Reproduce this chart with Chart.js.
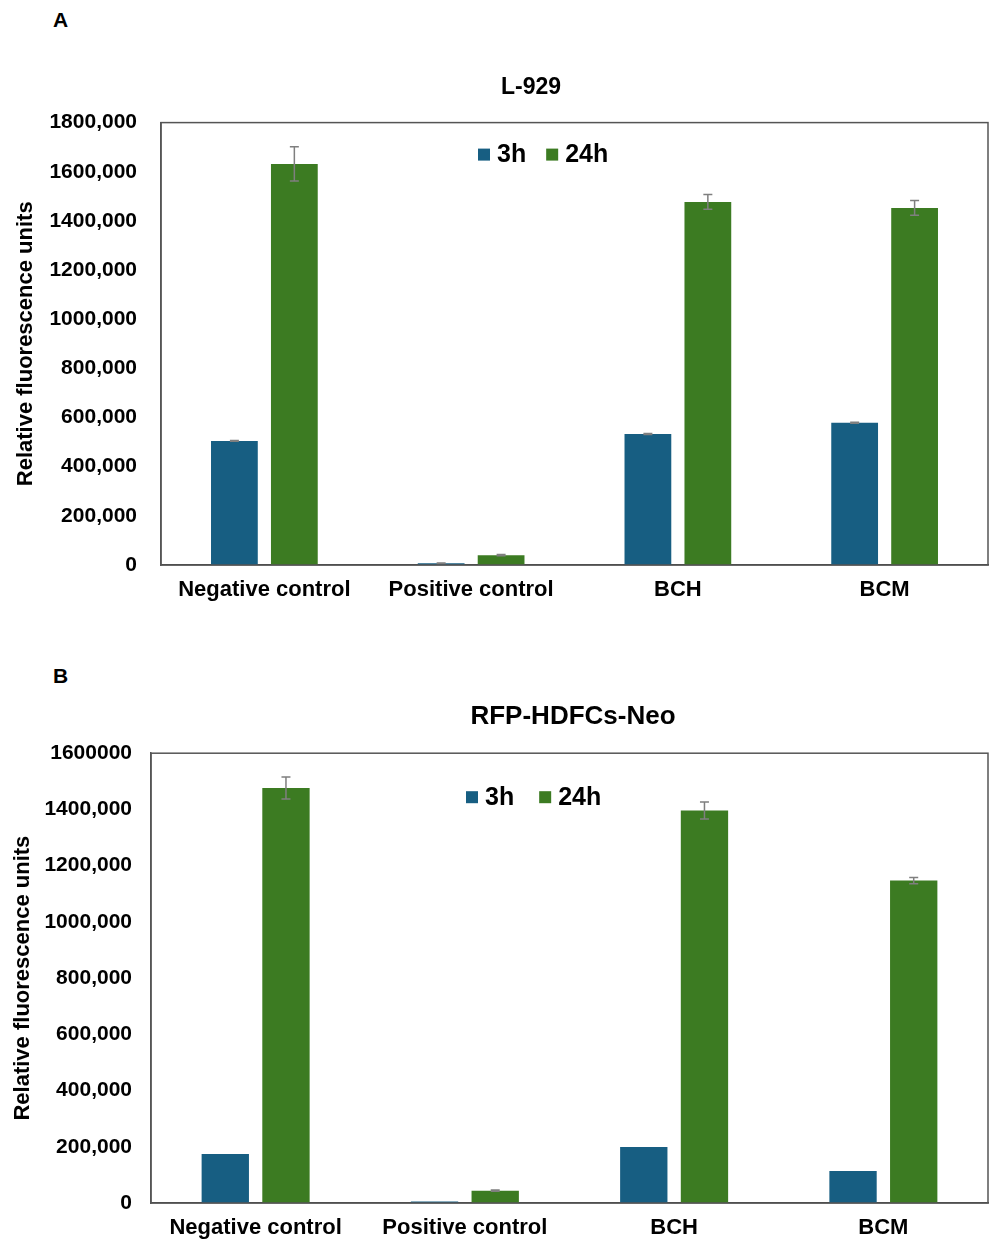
<!DOCTYPE html>
<html>
<head>
<meta charset="utf-8">
<script src="https://cdn.jsdelivr.net/npm/chart.js@4.4.1/dist/chart.umd.min.js"></script>
<style>
  body { margin: 0; background: #fff; width: 989px; height: 1240px; position: relative; overflow: hidden;
         font-family: "Liberation Sans", Arial, sans-serif; }
  .panel { position: absolute; left: 53px; font-weight: bold; font-size: 21px; color: #000; }
  canvas { position: absolute; left: 0; }
</style>
</head>
<body>
<div class="panel" style="top:8px">A</div>
<canvas id="chartA" width="989" height="625" style="top:0"></canvas>
<div class="panel" style="top:664px">B</div>
<canvas id="chartB" width="989" height="600" style="top:640px"></canvas>

<script>
// datos
const categories = ['Negative control', 'Positive control', 'BCH', 'BCM'];
const seriesNames = ['3h', '24h'];
const seriesColors = ['#175e82', '#3c7b22'];

// A - L-929
const l929_3h = [505000, 7000, 533000, 579000];
const l929_24h = [1632000, 40000, 1477000, 1453000];
const l929_3hErr = [2000, 1500, 2500, 2000];
const l929_24hErr = [70000, 2500, 30000, 30000];
const l929Ticks = ['0', '200,000', '400,000', '600,000', '800,000', '1000,000', '1200,000', '1400,000', '1600,000', '1800,000'];

// B - RFP-HDFCs-Neo
const rfp_3h = [174000, 5000, 199000, 114000];
const rfp_24h = [1476000, 44000, 1396000, 1147000];
const rfp_3hErr = [0, 0, 0, 0];
const rfp_24hErr = [39000, 2000, 30000, 11000];
const rfpTicks = ['0', '200,000', '400,000', '600,000', '800,000', '1000,000', '1200,000', '1400,000', '1600000'];

Chart.defaults.font.family = '"Liberation Sans", Arial, sans-serif';

// barras de error (simetricas)
const errorBars = {
  id: 'errorBars',
  afterDatasetsDraw(chart) {
    const ctx = chart.ctx;
    const y = chart.scales.y;
    ctx.save();
    ctx.strokeStyle = '#7f7f7f';
    ctx.lineWidth = 1.5;
    chart.data.datasets.forEach((ds, i) => {
      chart.getDatasetMeta(i).data.forEach((bar, j) => {
        const e = ds.errors[j];
        if (!e) return;
        const top = y.getPixelForValue(ds.data[j] + e);
        const bot = y.getPixelForValue(Math.max(ds.data[j] - e, 0));
        ctx.beginPath();
        ctx.moveTo(bar.x, top); ctx.lineTo(bar.x, bot);
        ctx.moveTo(bar.x - 4.5, top); ctx.lineTo(bar.x + 4.5, top);
        ctx.moveTo(bar.x - 4.5, bot); ctx.lineTo(bar.x + 4.5, bot);
        ctx.stroke();
      });
    });
    ctx.restore();
  }
};

// marco alrededor del area del grafico
const frame = {
  id: 'frame',
  afterDatasetsDraw(chart) {
    const {left, top, right, bottom} = chart.chartArea;
    const ctx = chart.ctx;
    ctx.save();
    ctx.strokeStyle = '#555';
    ctx.lineWidth = 1.5;
    ctx.strokeRect(left, top, right - left, bottom - top);
    ctx.restore();
  }
};

// leyenda en una fila dentro del area (la de Chart.js en chartArea sale en columna)
const rowLegend = {
  id: 'rowLegend',
  afterDraw(chart, args, opts) {
    const ctx = chart.ctx;
    const area = chart.chartArea;
    let x = area.left + opts.x;
    const y = area.top + opts.y;
    ctx.save();
    ctx.font = 'bold 25px "Liberation Sans", Arial, sans-serif';
    ctx.textBaseline = 'middle';
    chart.data.datasets.forEach(ds => {
      ctx.fillStyle = ds.backgroundColor;
      ctx.fillRect(x, y - 6, 12, 12);
      x += 12 + 7;
      ctx.fillStyle = '#000';
      ctx.fillText(ds.label, x, y + 1);
      x += ctx.measureText(ds.label).width + opts.gap;
    });
    ctx.restore();
  }
};

// mover el titulo a donde esta en la figura
const shiftTitle = {
  id: 'shiftTitle',
  afterLayout(chart, args, opts) {
    const t = chart.titleBlock;
    if (t) { t.left += opts.dx; t.right += opts.dx; }
  }
};

function makeChart(id, title, d3, d24, e3, e24, yMax, tickLabels, cfg) {
  const ctx = document.getElementById(id).getContext('2d');
  return new Chart(ctx, {
    type: 'bar',
    data: {
      labels: categories,
      datasets: [
        { label: seriesNames[0], data: d3, errors: e3, backgroundColor: seriesColors[0], borderWidth: 0, barPercentage: 0.78, categoryPercentage: 0.58 },
        { label: seriesNames[1], data: d24, errors: e24, backgroundColor: seriesColors[1], borderWidth: 0, barPercentage: 0.78, categoryPercentage: 0.58 }
      ]
    },
    options: {
      responsive: false,
      animation: false,
      layout: { padding: { top: cfg.padTop, right: 1, left: 0, bottom: 0 } },
      plugins: {
        title: {
          display: true, text: title, color: '#000',
          font: { size: cfg.titleSize, weight: 'bold' },
          padding: { top: cfg.titlePadTop, bottom: cfg.titlePadBottom }
        },
        legend: { display: false },
        tooltip: { enabled: false },
        rowLegend: { x: cfg.legendX, y: cfg.legendY, gap: cfg.legendGap },
        shiftTitle: { dx: cfg.titleDx }
      },
      scales: {
        x: {
          grid: { display: false, drawTicks: false },
          border: { display: true, color: '#404040', width: 1.5 },
          ticks: { color: '#000', font: { size: 22, weight: 'bold' }, padding: 12, maxRotation: 0 },
          afterFit: s => { s.height = cfg.xHeight; }
        },
        y: {
          min: 0, max: yMax,
          grid: { display: false, drawTicks: false },
          border: { display: true, color: '#555', width: 1.5 },
          ticks: {
            stepSize: 200000, color: '#000', font: { size: 21, weight: 'bold' }, padding: cfg.tickPad,
            callback: (v, i) => tickLabels[i]
          },
          title: {
            display: true, text: 'Relative fluorescence units', color: '#000',
            font: { size: 22, weight: 'bold' }, padding: { top: cfg.yTitlePad, bottom: 0 }
          },
          afterFit: s => { s.width = cfg.yWidth; }
        }
      }
    },
    plugins: [errorBars, frame, rowLegend, shiftTitle]
  });
}

makeChart('chartA', 'L-929', l929_3h, l929_24h, l929_3hErr, l929_24hErr, 1800000, l929Ticks, {
  padTop: 60, titleSize: 23, titlePadTop: 14, titlePadBottom: 21, titleDx: 37,
  legendX: 317, legendY: 32, legendGap: 20, xHeight: 60, yWidth: 161, tickPad: 24, yTitlePad: 13
});

makeChart('chartB', 'RFP-HDFCs-Neo', rfp_3h, rfp_24h, rfp_3hErr, rfp_24hErr, 1600000, rfpTicks, {
  padTop: 45, titleSize: 26, titlePadTop: 16, titlePadBottom: 21, titleDx: 79,
  legendX: 315, legendY: 44, legendGap: 25, xHeight: 37, yWidth: 151, tickPad: 19, yTitlePad: 10
});
</script>
</body>
</html>
